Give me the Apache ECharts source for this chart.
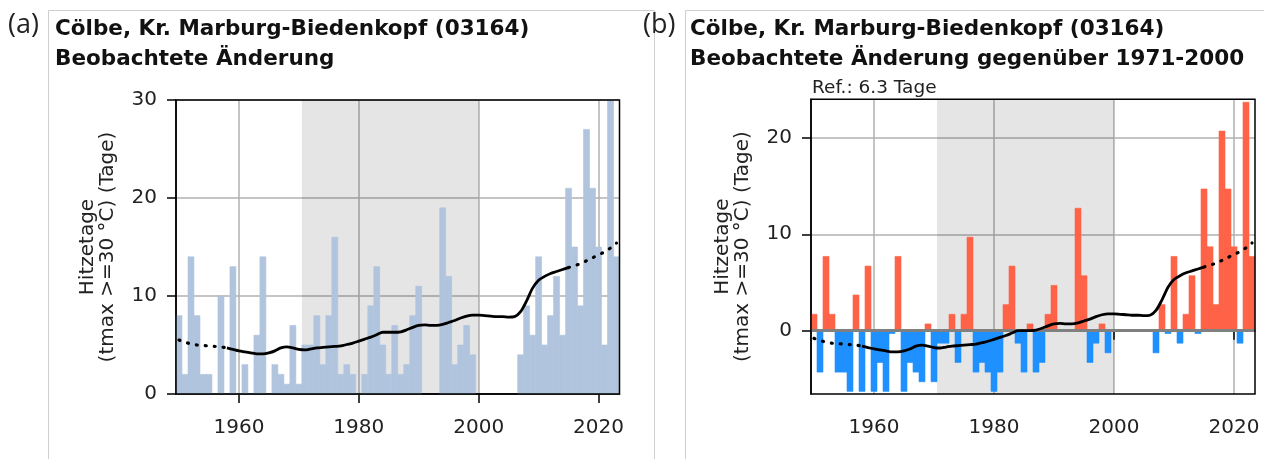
<!DOCTYPE html>
<html>
<head>
<meta charset="utf-8">
<script src="https://cdn.jsdelivr.net/npm/echarts@6/dist/echarts.min.js"></script>
<style>
html, body { margin: 0; padding: 0; background: #fff; }
#chart { width: 1264px; height: 459px; }
</style>
</head>
<body>
<div id="chart"></div>
<script>
// Hitzetage (tmax >= 30 °C), Cölbe, 1950-2023 (null = keine Daten)
var firstYear = 1950;
var hotDays = [
	8, 2, 14, 8, 2, 2, 0, 10, 0, 13,
	0, 3, 0, 6, 14, 0, 3, 2, 1, 7,
	1, 5, 5, 8, 3, 8, 16, 2, 3, 2,
	0, 2, 9, 13, 5, 2, 7, 2, 3, 8,
	11, null, null, null, 19, 12, 3, 5, 7, 4,
	null, null, null, null, null, null, null, 4, 9, 6,
	14, 5, 8, 12, 6, 21, 15, 9, 27, 21,
	15, 5, 30, 14
];
// geglaetteter Verlauf
var trend = [
	5.5, 5.3, 5.1, 5.0, 4.95, 4.9, 4.85, 4.8, 4.7, 4.55,
	4.4, 4.3, 4.2, 4.1, 4.1, 4.2, 4.4, 4.7, 4.8, 4.7,
	4.55, 4.5, 4.6, 4.7, 4.75, 4.8, 4.85, 4.9, 5.05, 5.2,
	5.4, 5.6, 5.8, 6.05, 6.3, 6.3, 6.3, 6.35, 6.55, 6.8,
	7.0, 7.05, 7.0, 7.0, 7.1, 7.3, 7.5, 7.75, 7.95, 8.05,
	8.05, 8.0, 7.95, 7.9, 7.9, 7.85, 7.9, 8.4, 9.5, 10.8,
	11.6, 12.0, 12.3, 12.5, 12.7, 12.9, 13.1, 13.3, 13.6, 13.9,
	14.2, 14.5, 14.9, 15.4
];
var solidFrom = 1958, solidTo = 2015;
var refDays = 6.3;
var refPeriod = [1970.5, 2000];
var xTicks = [1960, 1980, 2000, 2020];
var yTicksLeft = [0, 10, 20, 30];
var yTicksRight = [0, 10, 20];

var titleLine1 = 'Cölbe, Kr. Marburg-Biedenkopf (03164)';
var titleLeft = titleLine1 + '\nBeobachtete Änderung';
var titleRight = titleLine1 + '\nBeobachtete Änderung gegenüber 1971-2000';
var yName = 'Hitzetage\n(tmax >=30 °C) (Tage)';

var FONT = 'DejaVu Sans';
var myChart = echarts.init(document.getElementById('chart'));

function buildPairs(values, offset, from, to) {
	var out = [];
	for (var i = 0; i < values.length; i++) {
		var yr = firstYear + i;
		var v = values[i];
		if (v == null || yr < from || yr > to) {
			out.push([yr, null]);
		} else {
			out.push([yr, v - offset]);
		}
	}
	return out;
}

function dottedPairs(offset) {
	var out = [];
	for (var i = 0; i < trend.length; i++) {
		var yr = firstYear + i;
		if (yr <= solidFrom || yr >= solidTo) {
			out.push([yr, trend[i] - offset]);
		} else {
			out.push([yr, null]);
		}
	}
	return out;
}

function barRender(colorFn) {
	return function (params, api) {
		var yr = api.value(0);
		var v = api.value(1);
		if (v == null || isNaN(v)) {
			return null;
		}
		var p0 = api.coord([yr - 0.5, 0]);
		var p1 = api.coord([yr + 0.5, v]);
		var c = colorFn(v);
		return {
			type: 'rect',
			shape: {
				x: p0[0],
				y: Math.min(p0[1], p1[1]),
				width: p1[0] - p0[0],
				height: Math.abs(p1[1] - p0[1])
			},
			style: { fill: c, stroke: c, lineWidth: 0.6 }
		};
	};
}

function plainNum(v) {
	return String(v);
}

function xAxisFor(idx) {
	return {
		type: 'value',
		gridIndex: idx,
		min: 1949.5,
		max: 2023.5,
		axisLine: { show: true, lineStyle: { color: '#000', width: 1.5 } },
		axisTick: { show: true, length: 9, customValues: xTicks, lineStyle: { color: '#000', width: 1.5 } },
		axisLabel: { customValues: xTicks, formatter: plainNum, margin: 24, fontSize: 20, fontFamily: FONT, color: '#222' },
		splitLine: { show: true, lineStyle: { color: '#b0b0b0', width: 1.5 } }
	};
}

function yAxisFor(idx, min, max, ticks) {
	return {
		type: 'value',
		gridIndex: idx,
		min: min,
		max: max,
		name: yName,
		nameLocation: 'middle',
		nameRotate: 90,
		nameGap: 58,
		nameTextStyle: { fontSize: 20, lineHeight: 20, fontFamily: FONT, color: '#222' },
		axisLine: { show: true, lineStyle: { color: '#000', width: 1.5 } },
		axisTick: { show: true, length: 9, customValues: ticks, lineStyle: { color: '#000', width: 1.5 } },
		axisLabel: { customValues: ticks, formatter: plainNum, margin: 19, fontSize: 20, fontFamily: FONT, color: '#222' },
		splitLine: { show: true, lineStyle: { color: '#b0b0b0', width: 1.5 } }
	};
}

var hotPairs = buildPairs(hotDays, 0, 0, 9999);
var anomPairs = buildPairs(hotDays, refDays, 0, 9999);

var chartOption = {
	animation: false,
	title: [
		{ text: titleLeft, left: 55, top: 14, padding: 0,
		  textStyle: { fontFamily: FONT, fontWeight: 'bold', fontSize: 21.5, lineHeight: 30, color: '#111' } },
		{ text: titleRight, left: 690, top: 14, padding: 0,
		  textStyle: { fontFamily: FONT, fontWeight: 'bold', fontSize: 21.5, lineHeight: 30, color: '#111' } },
		{ text: '(a)', left: 8, top: 12, padding: 0,
		  textStyle: { fontFamily: 'Open Sans', fontWeight: 'normal', fontSize: 27, color: '#222' } },
		{ text: '(b)', left: 643, top: 12, padding: 0,
		  textStyle: { fontFamily: 'Open Sans', fontWeight: 'normal', fontSize: 27, color: '#222' } },
		{ text: 'Ref.: ' + refDays.toFixed(1) + ' Tage', left: 812, top: 79, padding: 0,
		  textStyle: { fontFamily: FONT, fontWeight: 'normal', fontSize: 18.5, color: '#222' } }
	],
	graphic: [
		{ type: 'rect', shape: { x: 48.5, y: 10.5, width: 606, height: 460 },
		  style: { fill: 'none', stroke: '#cfcfcf', lineWidth: 1 }, silent: true },
		{ type: 'rect', shape: { x: 685.5, y: 10.5, width: 600, height: 460 },
		  style: { fill: 'none', stroke: '#cfcfcf', lineWidth: 1 }, silent: true }
	],
	grid: [
		{ left: 176, top: 100, width: 443.5, height: 294, show: true, z: 10,
		  backgroundColor: 'transparent', borderColor: '#000', borderWidth: 1.5 },
		{ left: 811, top: 99.3, width: 444, height: 294.7, show: true, z: 10,
		  backgroundColor: 'transparent', borderColor: '#000', borderWidth: 1.5 }
	],
	xAxis: [xAxisFor(0), xAxisFor(1)],
	yAxis: [yAxisFor(0, 0, 30, yTicksLeft), yAxisFor(1, -6.57, 24, yTicksRight)],
	series: [
		// Referenzzeitraum
		{ type: 'line', xAxisIndex: 0, yAxisIndex: 0, data: [], silent: true,
		  markArea: { silent: true, itemStyle: { color: 'rgba(0,0,0,0.1)' },
		    data: [[{ xAxis: refPeriod[0] }, { xAxis: refPeriod[1] }]] } },
		{ type: 'line', xAxisIndex: 1, yAxisIndex: 1, data: [], silent: true,
		  markArea: { silent: true, itemStyle: { color: 'rgba(0,0,0,0.1)' },
		    data: [[{ xAxis: refPeriod[0] }, { xAxis: refPeriod[1] }]] } },
		// Balken
		{ type: 'custom', xAxisIndex: 0, yAxisIndex: 0, z: 2,
		  renderItem: barRender(function () { return '#b0c4de'; }),
		  data: hotPairs },
		{ type: 'custom', xAxisIndex: 1, yAxisIndex: 1, z: 2,
		  renderItem: barRender(function (v) { return v >= 0 ? '#ff6347' : '#1e90ff'; }),
		  data: anomPairs,
		  markLine: { silent: true, symbol: 'none', label: { show: false },
		    lineStyle: { color: '#808080', width: 3, type: 'solid' },
		    data: [{ yAxis: 0 }] } },
		// Trend
		{ type: 'line', xAxisIndex: 0, yAxisIndex: 0, z: 6, showSymbol: false, smooth: 0.3,
		  data: buildPairs(trend, 0, solidFrom, solidTo),
		  lineStyle: { color: '#000', width: 2.8 } },
		{ type: 'line', xAxisIndex: 0, yAxisIndex: 0, z: 6, showSymbol: false, smooth: 0.3,
		  data: dottedPairs(0),
		  lineStyle: { color: '#000', width: 3.2, type: [1, 8], cap: 'round' } },
		{ type: 'line', xAxisIndex: 1, yAxisIndex: 1, z: 6, showSymbol: false, smooth: 0.3,
		  data: buildPairs(trend, refDays, solidFrom, solidTo),
		  lineStyle: { color: '#000', width: 2.8 } },
		{ type: 'line', xAxisIndex: 1, yAxisIndex: 1, z: 6, showSymbol: false, smooth: 0.3,
		  data: dottedPairs(refDays),
		  lineStyle: { color: '#000', width: 3.2, type: [1, 8], cap: 'round' } }
	]
};

myChart.setOption(chartOption);
</script>
</body>
</html>
